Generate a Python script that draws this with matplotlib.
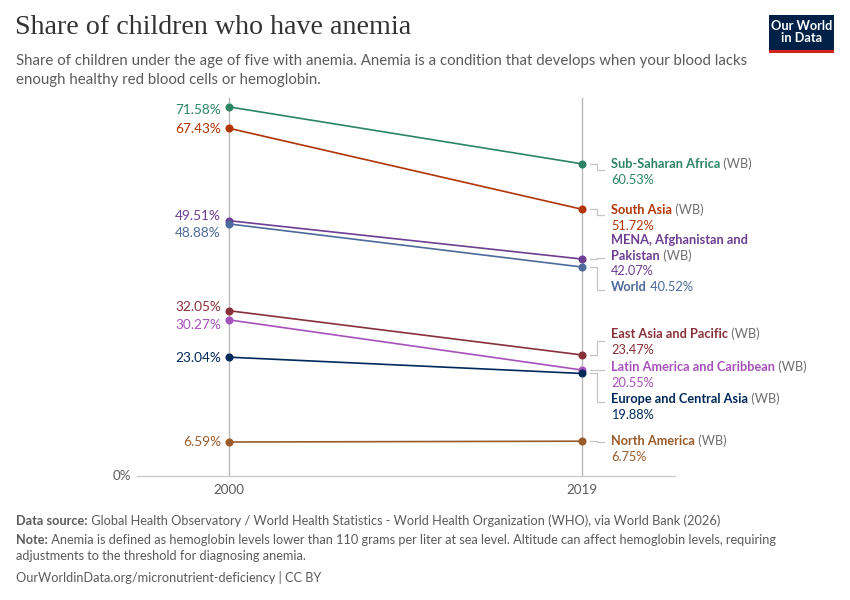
import matplotlib
matplotlib.use("Agg")
import matplotlib.pyplot as plt
from matplotlib.patches import Rectangle

plt.rcParams['font.family'] = ['Lato', 'DejaVu Sans']

years = [2000, 2019]
regions = ["Sub-Saharan Africa", "South Asia", "MENA, Afghanistan and Pakistan", "World",
           "East Asia and Pacific", "Latin America and Caribbean", "Europe and Central Asia",
           "North America"]
v2000 = [71.58, 67.43, 49.51, 48.88, 32.05, 30.27, 23.04, 6.59]
v2019 = [60.53, 51.72, 42.07, 40.52, 23.47, 20.55, 19.88, 6.75]
suffix = [" (WB)", " (WB)", " (WB)", "", " (WB)", " (WB)", " (WB)", " (WB)"]
colors = ["#2C8465", "#B13507", "#6D3E91", "#4C6A9C", "#883039", "#A652BA", "#00295B", "#9A5B2A"]

# label layout (y in data units)
left_label_y = [70.9, 67.3, 50.4, 47.2, 32.8, 29.3, 22.9, 6.6]
right_name_lines = [["Sub-Saharan Africa"], ["South Asia"], ["MENA, Afghanistan and", "Pakistan"],
                    ["World"], ["East Asia and Pacific"], ["Latin America and Caribbean"],
                    ["Europe and Central Asia"], ["North America"]]
right_label_y = [60.5, 51.6, 45.8, 36.7, 27.5, 21.1, 14.9, 6.8]
conn_end_y = [59.4, 50.6, 42.3, 36.0, 26.2, 20.6, 14.3, 6.5]

fig = plt.figure(figsize=(8.5, 6), dpi=100)
bg = fig.add_axes([0, 0, 1, 1])
bg.axis('off')
bg.set_xlim(0, 850)
bg.set_ylim(600, 0)

ax = fig.add_axes([137/850, 124/600, (675-137)/850, (476-98)/600])
ax.set_xlim(1995.05, 2024.0)
ax.set_ylim(0, 73.3)
ax.axis('off')

GRID = "#b8b8b8"
TXT = "#5b5b5b"
ax.plot([2000, 2000], [0, 73.3], color=GRID, lw=1.0, zorder=1, clip_on=False)
ax.plot([2019, 2019], [0, 73.3], color=GRID, lw=1.0, zorder=1, clip_on=False)
ax.plot([1995.05, 2024.0], [0, 0], color="#cccccc", lw=1.0, zorder=1, clip_on=False)

for i, r in enumerate(regions):
    ax.plot(years, [v2000[i], v2019[i]], color=colors[i], lw=1.2, marker='o', ms=4.8,
            zorder=3, clip_on=False)
    # left value labels
    ax.text(1999.57, left_label_y[i], f"{v2000[i]:.2f}%", color=colors[i], ha='right',
            va='center', fontsize=9.8)
    # connector
    xs = [2019.43, 2019.78, 2019.78, 2020.2]
    ys = [v2019[i], v2019[i], conn_end_y[i], conn_end_y[i]]
    ax.plot(xs, ys, color="#c4c4c4", lw=0.9, zorder=2, clip_on=False)

ax.text(1994.75, 0, "0%", color=TXT, ha='right', va='center', fontsize=9.6)
ax.text(2000, -1.5, "2000", color=TXT, ha='center', va='top', fontsize=9.6)
ax.text(2019, -1.5, "2019", color=TXT, ha='center', va='top', fontsize=9.6)

# right labels
XL = 2020.56
line_h = 3.05
for i, r in enumerate(regions):
    lines = right_name_lines[i]
    y = right_label_y[i]
    for j, ln in enumerate(lines):
        t = ax.text(XL, y - j * line_h, ln, color=colors[i], ha='left', va='center',
                    fontsize=9.2, fontweight='bold')
    if r == "World":
        ax.annotate(f" {v2019[i]:.2f}%", xy=(1, 0), xycoords=t, va='bottom', ha='left',
                    color=colors[i], fontsize=9.2)
    else:
        ax.annotate(suffix[i], xy=(1, 0), xycoords=t, va='bottom', ha='left',
                    color="#6e6e6e", fontsize=9.2)
        ax.text(XL, y - len(lines) * line_h, f"{v2019[i]:.2f}%", color=colors[i],
                ha='left', va='center', fontsize=9.2)

# title and subtitle
bg.text(15, 28, "Share of children who have anemia", family=['Liberation Serif', 'DejaVu Serif'],
        fontsize=20.2, color="#333333", ha='left', va='center')
bg.text(16, 61, "Share of children under the age of five with anemia. Anemia is a condition that develops when your blood lacks",
        fontsize=10.8, color="#5b5b5b", ha='left', va='center')
bg.text(16, 80, "enough healthy red blood cells or hemoglobin.",
        fontsize=10.8, color="#5b5b5b", ha='left', va='center')

# logo
bg.add_patch(Rectangle((769, 15), 65, 35, facecolor="#002147", edgecolor='none'))
bg.add_patch(Rectangle((769, 50), 65, 3, facecolor="#CE261E", edgecolor='none'))
bg.text(801.5, 32.5, "Our World\nin Data", color='white', fontsize=9.2, fontweight='bold',
        ha='center', va='center', linespacing=1.0)

# footer
FS = 9.2
def runs(x, y, parts, fs=FS):
    t = bg.text(x, y, parts[0][0], color=TXT, fontsize=fs, fontweight=parts[0][1],
                ha='left', va='center')
    for txt, w in parts[1:]:
        t = bg.annotate(txt, xy=(1, 0), xycoords=t, va='bottom', ha='left', color=TXT,
                        fontsize=fs, fontweight=w)

runs(16, 521, [("Data source:", 'bold'),
               (" Global Health Observatory / World Health Statistics - World Health Organization (WHO), via World Bank (2026)", 'normal')])
runs(16, 540, [("Note:", 'bold'),
               (" Anemia is defined as hemoglobin levels lower than 110 grams per liter at sea level. Altitude can affect hemoglobin levels, requiring", 'normal')])
bg.text(16, 556, "adjustments to the threshold for diagnosing anemia.", color=TXT, fontsize=FS,
        ha='left', va='center')
bg.text(16, 577, "OurWorldinData.org/micronutrient-deficiency | CC BY", color=TXT, fontsize=FS,
        ha='left', va='center')

fig.savefig("out.png", dpi=100, facecolor='white')
